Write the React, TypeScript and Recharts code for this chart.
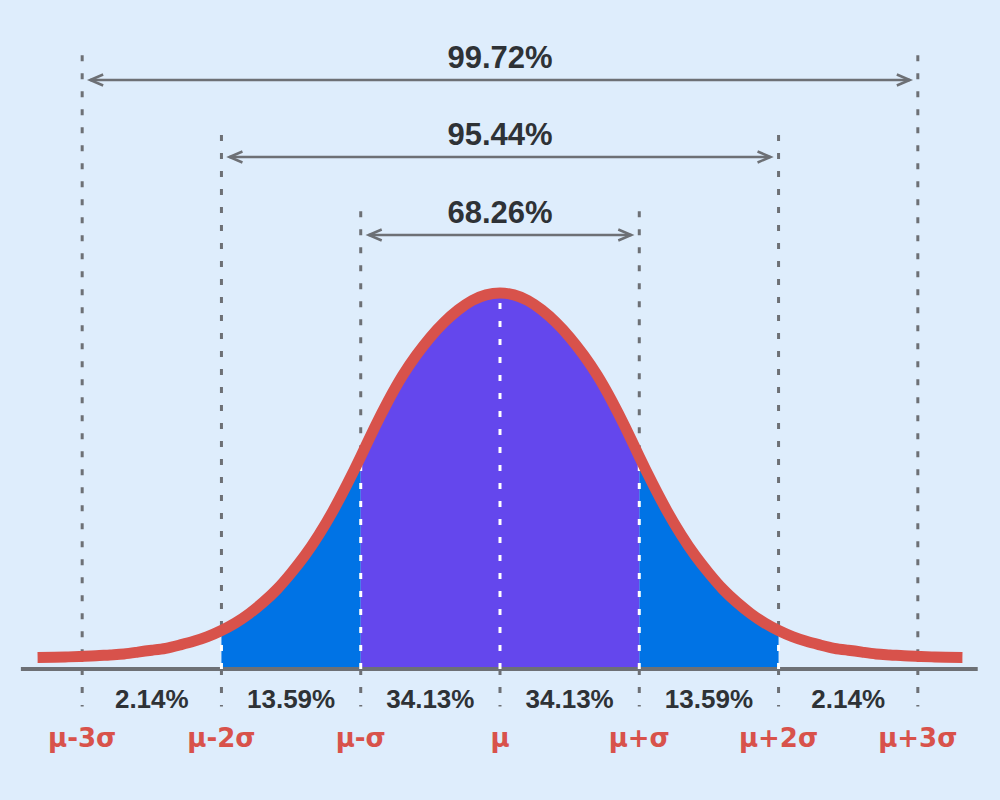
import React from 'react';
import { ComposedChart, Line, Area, XAxis, YAxis, ReferenceLine } from 'recharts';

// x positions in sigma units
const zValues = [
  -3.32, -3.2, -3.1, -3.0, -2.9, -2.8, -2.7, -2.6, -2.5, -2.4, -2.3, -2.2, -2.1, -2.0,
  -1.9, -1.8, -1.7, -1.6, -1.5, -1.4, -1.3, -1.2, -1.1, -1.0, -0.9, -0.8, -0.7, -0.6,
  -0.5, -0.4, -0.3, -0.2, -0.1, 0, 0.1, 0.2, 0.3, 0.4, 0.5, 0.6, 0.7, 0.8, 0.9, 1.0,
  1.1, 1.2, 1.3, 1.4, 1.5, 1.6, 1.7, 1.8, 1.9, 2.0, 2.1, 2.2, 2.3, 2.4, 2.5, 2.6, 2.7,
  2.8, 2.9, 3.0, 3.1, 3.2, 3.32,
];

// curve heights
const curveValues = [
  0.0122, 0.0126, 0.0129, 0.0134, 0.014, 0.015, 0.016, 0.018, 0.02, 0.022, 0.0255, 0.0295, 0.0345, 0.041,
  0.049, 0.059, 0.071, 0.085, 0.102, 0.121, 0.143, 0.168, 0.196, 0.226, 0.257, 0.286, 0.312, 0.334,
  0.353, 0.369, 0.382, 0.392, 0.398, 0.4, 0.398, 0.392, 0.382, 0.369, 0.353, 0.334, 0.312, 0.286, 0.257, 0.226,
  0.196, 0.168, 0.143, 0.121, 0.102, 0.085, 0.071, 0.059, 0.049, 0.041, 0.0345, 0.0295, 0.0255, 0.022, 0.02, 0.018, 0.016,
  0.015, 0.014, 0.0134, 0.0129, 0.0126, 0.0122,
];

const sigmaPositions = [-3, -2, -1, 0, 1, 2, 3];
const sigmaLabels = ['μ-3σ', 'μ-2σ', 'μ-σ', 'μ', 'μ+σ', 'μ+2σ', 'μ+3σ'];
const bandCenters = [-2.5, -1.5, -0.5, 0.5, 1.5, 2.5];
const bandLabels = ['2.14%', '13.59%', '34.13%', '34.13%', '13.59%', '2.14%'];

const rangeHalfWidths = [1, 2, 3];
const rangeLabels = ['68.26%', '95.44%', '99.72%'];
const rangeArrowLevels = [0.4617, 0.5447, 0.6266];
const guideTops = [0.487, 0.568, 0.653];
const guideBottom = -0.04;
const baselineExtent = [-3.44, 3.43];

const BG = '#deedfc';
const RED = '#d8524b';
const BLUE = '#0073e5';
const PURPLE = '#6447ed';
const GRAY = '#6d7075';
const TEXT = '#2e3236';

const chartData = zValues.map((x, i) => ({
  x,
  y: curveValues[i],
  inner: x >= -1 && x <= 1 ? curveValues[i] : null,
  outer: (x >= -2 && x <= -1) || (x >= 1 && x <= 2) ? curveValues[i] : null,
}));

const curveAt = (x: number) => curveValues[zValues.indexOf(x)];

const makeArrow = (label: string) => (p: any) => {
  const { x1, y1, x2 } = p;
  const a = x1 + 8;
  const b = x2 - 8;
  return (
    <g>
      <line x1={a} y1={y1} x2={b} y2={y1} stroke={GRAY} strokeWidth={2.5} />
      <polyline points={`${a + 13},${y1 - 5.5} ${a},${y1} ${a + 13},${y1 + 5.5}`} fill="none" stroke={GRAY} strokeWidth={2.5} />
      <polyline points={`${b - 13},${y1 - 5.5} ${b},${y1} ${b - 13},${y1 + 5.5}`} fill="none" stroke={GRAY} strokeWidth={2.5} />
      <text x={(x1 + x2) / 2} y={y1 - 12} textAnchor="middle" fontSize={31} fontWeight="bold" fill={TEXT}
        fontFamily="'Liberation Sans', Arial, sans-serif">{label}</text>
    </g>
  );
};

const PctTick = (p: any) => (
  <text x={p.x} y={p.y + 39} textAnchor="middle" fontSize={26} fontWeight="bold" fill={TEXT}
    fontFamily="'Liberation Sans', Arial, sans-serif">{bandLabels[p.index]}</text>
);

const SigTick = (p: any) => (
  <text x={p.x} y={p.y + 38} textAnchor="middle" fontSize={26} fontWeight="bold" fill={RED}
    fontFamily="'DejaVu Sans', Verdana, sans-serif">{sigmaLabels[p.index]}</text>
);

const dash = '6 12';

export default function App() {
  const grayGuides: React.ReactNode[] = [];
  const whiteGuides: React.ReactNode[] = [];
  sigmaPositions.forEach((s) => {
    const abs = Math.abs(s);
    const h = curveAt(s);
    grayGuides.push(
      <ReferenceLine key={`gb${s}`} xAxisId="pct" ifOverflow="visible"
        segment={[{ x: s, y: 0 }, { x: s, y: guideBottom }]}
        stroke={GRAY} strokeWidth={3} strokeDasharray={dash} />
    );
    if (abs > 0) {
      const top = guideTops[abs - 1];
      const end = abs === 3 ? 0 : h;
      grayGuides.push(
        <ReferenceLine key={`gt${s}`} xAxisId="pct" ifOverflow="visible"
          segment={[{ x: s, y: top }, { x: s, y: end }]}
          stroke={GRAY} strokeWidth={3} strokeDasharray={dash} />
      );
    }
    if (abs < 3) {
      whiteGuides.push(
        <ReferenceLine key={`w${s}`} xAxisId="pct" ifOverflow="visible"
          segment={[{ x: s, y: 0 }, { x: s, y: h - 0.007 }]}
          stroke="#ffffff" strokeWidth={3} strokeDasharray={dash} />
      );
    }
  });

  return (
    <div style={{ position: 'absolute', left: 0, top: 0, width: 1000, height: 800, background: BG }}>
      <ComposedChart width={1000} height={800} data={chartData}
        margin={{ top: 11, right: 0, bottom: 41, left: 0 }}>
        <XAxis xAxisId="pct" type="number" dataKey="x" domain={[-3.59, 3.59]} allowDataOverflow
          ticks={bandCenters} interval={0} tick={PctTick} axisLine={false} tickLine={false}
          tickSize={0} tickMargin={0} height={40} />
        <XAxis xAxisId="sig" type="number" dataKey="x" domain={[-3.59, 3.59]} allowDataOverflow
          ticks={sigmaPositions} interval={0} tick={SigTick} axisLine={false} tickLine={false}
          tickSize={0} tickMargin={0} height={50} />
        <YAxis hide type="number" domain={[0, 0.7]} allowDataOverflow />
        {grayGuides}
        <Area xAxisId="pct" dataKey="outer" type="natural" fill={BLUE} fillOpacity={1} stroke="none"
          baseValue={0} isAnimationActive={false} connectNulls={false} />
        <Area xAxisId="pct" dataKey="inner" type="natural" fill={PURPLE} fillOpacity={1} stroke="none"
          baseValue={0} isAnimationActive={false} connectNulls={false} />
        <ReferenceLine xAxisId="pct" ifOverflow="visible"
          segment={[{ x: baselineExtent[0], y: 0 }, { x: baselineExtent[1], y: 0 }]}
          stroke={GRAY} strokeWidth={4} />
        {whiteGuides}
        <Line xAxisId="pct" dataKey="y" type="natural" stroke={RED} strokeWidth={11} dot={false}
          activeDot={false} isAnimationActive={false} strokeLinecap="butt" />
        {rangeHalfWidths.map((w, i) => (
          <ReferenceLine key={`r${w}`} xAxisId="pct" ifOverflow="visible"
            segment={[{ x: -w, y: rangeArrowLevels[i] }, { x: w, y: rangeArrowLevels[i] }]}
            shape={makeArrow(rangeLabels[i])} />
        ))}
      </ComposedChart>
    </div>
  );
}
